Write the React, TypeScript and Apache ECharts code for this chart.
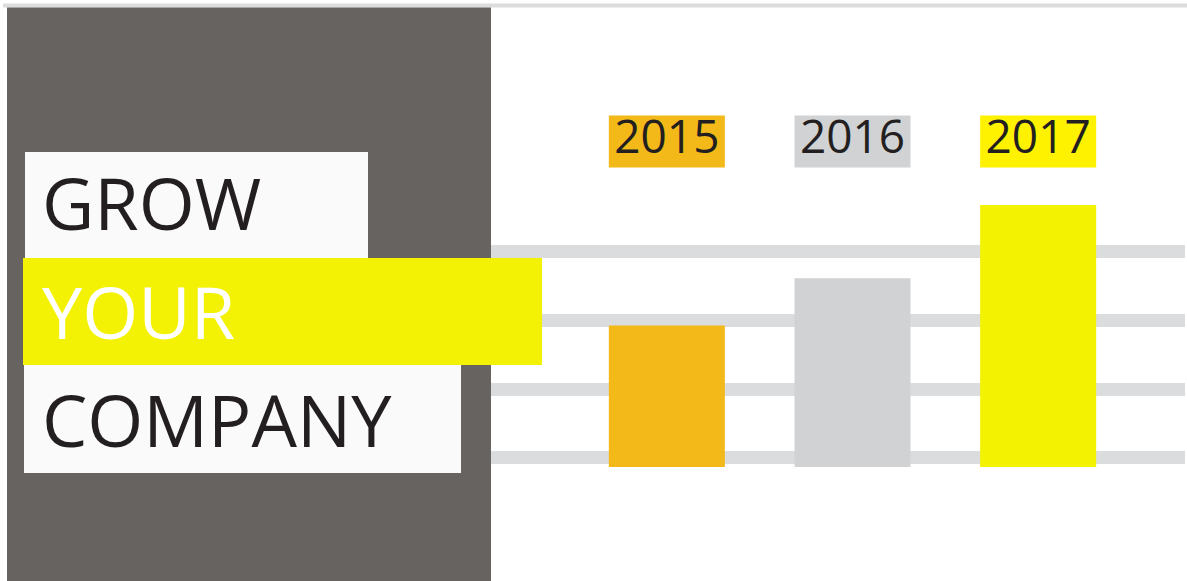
import React, { useEffect, useRef } from "react";
import * as echarts from "echarts";

const years = ["2015", "2016", "2017"];
const values = [54, 72, 100];
const barColors = ["#F2B918", "#D1D2D4", "#F3F200"];
const labelColors = ["#F2B918", "#D1D2D4", "#FFF200"];
const titleLines = ["GROW", "YOUR", "COMPANY"];
const gridTicks = [0, 1, 2, 3];

export default function App() {
  const ref = useRef<HTMLDivElement>(null);
  useEffect(() => {
    const chart = echarts.init(ref.current!, undefined, { renderer: "svg" });
    const rich: any = {};
    years.forEach((y, i) => {
      rich["y" + i] = {
        backgroundColor: labelColors[i],
        width: 116,
        height: 39,
        lineHeight: 39,
        padding: [0, 0, 13, 0],
        align: "center",
        fontSize: 46,
        fontFamily: "Open Sans",
        color: "#231F20",
      };
    });
    const font = "Open Sans";
    chart.setOption({
      animation: false,
      backgroundColor: "#ffffff",
      grid: [
        { left: 574, width: 557, top: 205, height: 262 },
        { left: 491, width: 694, top: 251.5, height: 206 },
      ],
      xAxis: [
        {
          gridIndex: 0,
          type: "category",
          data: years,
          position: "top",
          axisLine: { show: false },
          axisTick: { show: false },
          axisLabel: {
            margin: 44,
            formatter: (v: string) => `{y${years.indexOf(v)}|${v}}`,
            rich,
          },
        },
        { gridIndex: 1, type: "value", show: false, min: 0, max: 1 },
      ],
      yAxis: [
        { gridIndex: 0, type: "value", min: 0, max: 100, show: false, splitLine: { show: false } },
        {
          gridIndex: 1,
          type: "value",
          min: gridTicks[0],
          max: gridTicks[gridTicks.length - 1],
          interval: 1,
          axisLine: { show: false },
          axisTick: { show: false },
          axisLabel: { show: false },
          splitLine: { show: true, lineStyle: { color: "#DBDCDE", width: 13 } },
        },
      ],
      series: [
        {
          type: "bar",
          xAxisIndex: 0,
          yAxisIndex: 0,
          barWidth: 116,
          data: values.map((v, i) => ({ value: v, itemStyle: { color: barColors[i] } })),
        },
      ],
      graphic: [
        { type: "rect", z: 100, shape: { x: 3, y: 3.5, width: 1184, height: 4 }, style: { fill: "#DCDCDC" } },
        { type: "rect", z: 100, shape: { x: 7, y: 7.5, width: 484, height: 574 }, style: { fill: "#676361" } },
        { type: "rect", z: 101, shape: { x: 25, y: 152, width: 343, height: 106 }, style: { fill: "#FAFAFA" } },
        { type: "rect", z: 101, shape: { x: 24, y: 365, width: 437, height: 108 }, style: { fill: "#FAFAFA" } },
        { type: "rect", z: 102, shape: { x: 23, y: 258, width: 519, height: 107 }, style: { fill: "#F3F205" } },
        {
          type: "text", z: 103, x: 42, y: 202,
          style: { text: titleLines[0], fill: "#231F20", font: `72px "${font}"`, textVerticalAlign: "middle", verticalAlign: "middle" },
        },
        {
          type: "text", z: 103, x: 42, y: 311,
          style: { text: titleLines[1], fill: "#FFFFFF", font: `72px "${font}"`, textVerticalAlign: "middle", verticalAlign: "middle" },
        },
        {
          type: "text", z: 103, x: 42, y: 419,
          style: { text: titleLines[2], fill: "#231F20", font: `72px "${font}"`, textVerticalAlign: "middle", verticalAlign: "middle" },
        },
      ],
    });
    return () => chart.dispose();
  }, []);
  return <div ref={ref} style={{ width: 1187, height: 581, position: "absolute", left: 0, top: 0 }} />;
}
